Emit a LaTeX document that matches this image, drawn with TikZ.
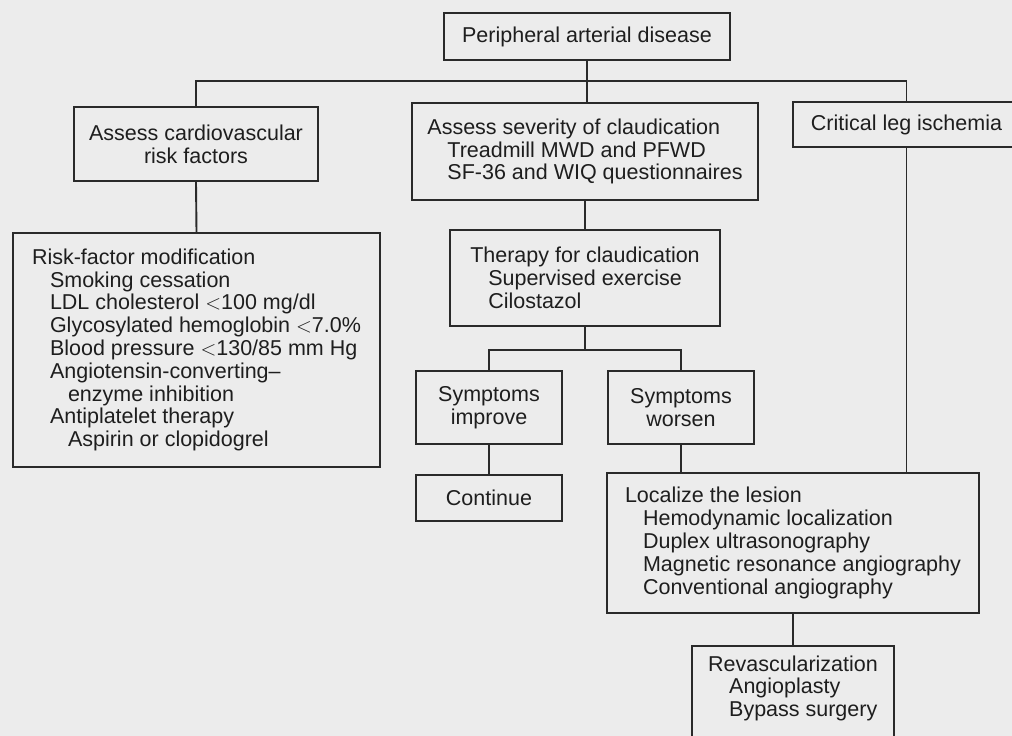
\documentclass[tikz,border=0pt]{standalone}
\usepackage{fontspec}
\setmainfont{Liberation Sans}
\definecolor{bg}{HTML}{ECECEC}
\definecolor{ink}{HTML}{2A2A2A}
\definecolor{txt}{HTML}{1E1E1E}
\tikzset{
  box/.style={draw=ink, line width=2pt, text=txt, inner sep=0pt,
    font=\fontsize{21.5}{22.8}\selectfont, align=left},
  conn/.style={draw=ink, line width=1.9pt},
}
\newcommand{\ind}{\hspace*{18pt}}
\begin{document}
\begin{tikzpicture}[x=1pt,y=-1pt]
\useasboundingbox (0,0) rectangle (1012,736);
\fill[bg] (0,0) rectangle (1012,736);
\clip (0,0) rectangle (1012,736);

\node[box, minimum width=286, minimum height=47] (pad) at (587,36.5) {Peripheral arterial disease};
\node[box, minimum width=244, minimum height=74, align=center] (cv) at (196,144) {Assess cardiovascular\\risk factors};
\node[box, minimum width=346, minimum height=97] (sev) at (585,151.5) {Assess severity of claudication\\\hspace*{20pt}Treadmill MWD and PFWD\\\hspace*{20pt}SF-36 and WIQ questionnaires};
\node[box, minimum width=227, minimum height=45] (cli) at (906.5,124.5) {Critical leg ischemia};
\node[box, minimum width=367, minimum height=234] (risk) at (196.5,350) {Risk-factor modification\\\ind Smoking cessation\\\ind LDL cholesterol $<$100 mg/dl\\\ind Glycosylated hemoglobin $<$7.0\%\\\ind Blood pressure $<$130/85 mm Hg\\\ind Angiotensin-converting--\\\ind\ind enzyme inhibition\\\ind Antiplatelet therapy\\\ind\ind Aspirin or clopidogrel};
\node[box, minimum width=270, minimum height=96] (ther) at (585,278) {Therapy for claudication\\\ind Supervised exercise\\\ind Cilostazol};
\node[box, minimum width=146, minimum height=73, align=center] (imp) at (489,407.5) {Symptoms\\improve};
\node[box, minimum width=146, minimum height=73, align=center] (wor) at (681,407.5) {Symptoms\\worsen};
\node[box, minimum width=146, minimum height=46] (cont) at (489,498) {Continue};
\node[box, minimum width=372, minimum height=140] (loc) at (793,543) {Localize the lesion\\\ind Hemodynamic localization\\\ind Duplex ultrasonography\\\ind Magnetic resonance angiography\\\ind Conventional angiography};
\node[box, minimum width=202, inner ysep=9.5pt, anchor=north] (rev) at (793,645) {Revascularization\\\hspace*{21pt}Angioplasty\\\hspace*{21pt}Bypass surgery\\[40pt]\mbox{}};

\coordinate (bar) at (0,81);
\coordinate (bar2) at (0,350);

\draw[conn] (pad.south) -- (pad.south |- sev.north);
\draw[conn] (cv.north) -- (cv.north |- bar) -- (cli.north |- bar) -- (cli.north);
\draw[conn] (cv.south) -- (risk.north);
\draw[conn] (sev.south) -- (ther.north);
\draw[conn] (ther.south) -- (ther.south |- bar2);
\draw[conn] (imp.north) -- (imp.north |- bar2) -- (wor.north |- bar2) -- (wor.north);
\draw[conn] (imp.south) -- (cont.north);
\draw[conn] (wor.south) -- (wor.south |- loc.north);
\draw[conn] (cli.south) -- (cli.south |- loc.north);
\draw[conn] (loc.south) -- (rev.north);
\end{tikzpicture}
\end{document}
